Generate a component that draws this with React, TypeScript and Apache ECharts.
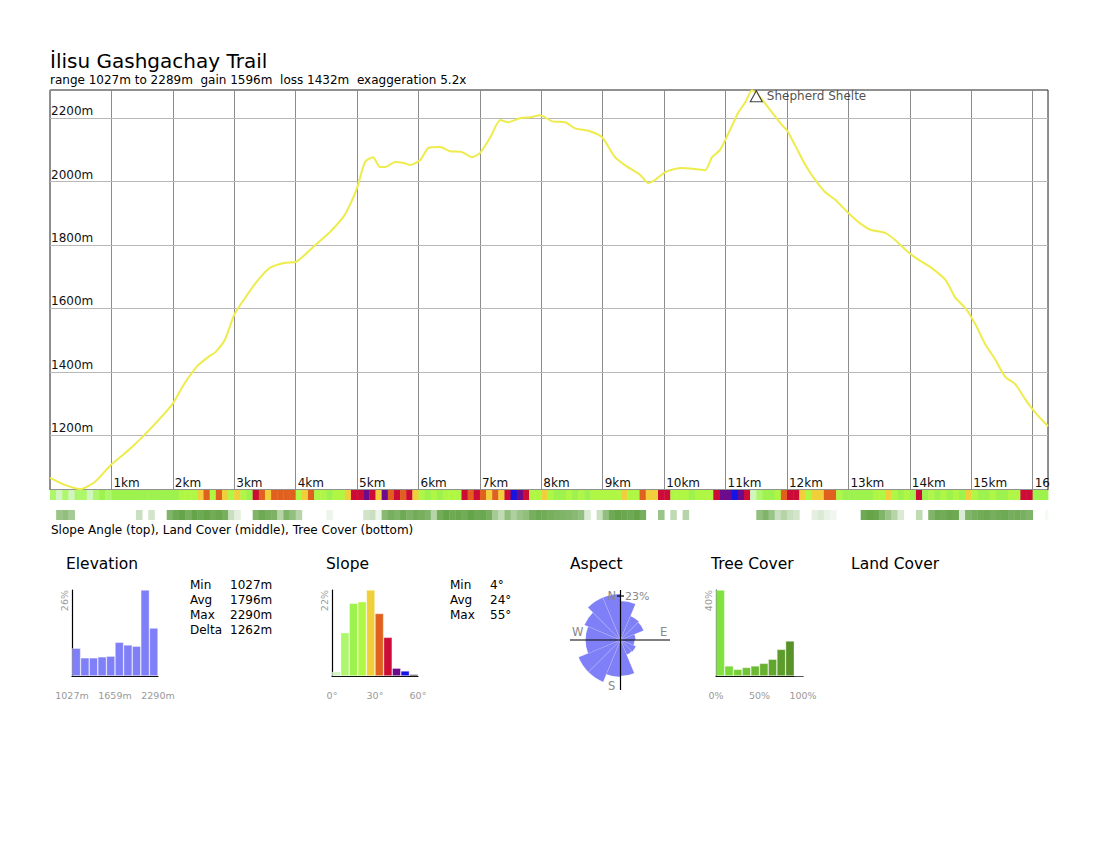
import React, { useEffect, useRef } from 'react';
import * as echarts from 'echarts';

// ---------- texts ----------
const TITLE = 'İlisu Gashgachay Trail';
const SUBTITLE = 'range 1027m to 2289m  gain 1596m  loss 1432m  exaggeration 5.2x';
const STRIP_CAPTION = 'Slope Angle (top), Land Cover (middle), Tree Cover (bottom)';
const SECTION_TITLES = ['Elevation', 'Slope', 'Aspect', 'Tree Cover', 'Land Cover'];

// ---------- elevation profile ----------
const ELEV_MIN = 1027;
const ELEV_MAX = 2289;
const TRAIL_KM = 16.25;
const DIST_KM = [0, 0.24, 0.49, 0.73, 0.99, 1.3, 1.63, 1.99, 2.2, 2.41, 2.61, 2.69, 2.85, 3.0, 3.18, 3.39, 3.58, 3.83, 4.01, 4.15, 4.32, 4.56, 4.8, 4.92, 5.0, 5.13, 5.26, 5.37, 5.46, 5.62, 5.78, 5.86, 6.03, 6.16, 6.35, 6.51, 6.71, 6.87, 7.0, 7.17, 7.33, 7.46, 7.65, 7.82, 7.98, 8.18, 8.39, 8.55, 8.79, 8.99, 9.2, 9.36, 9.61, 9.74, 9.85, 10.02, 10.26, 10.5, 10.67, 10.78, 10.91, 11.07, 11.21, 11.32, 11.43, 11.56, 11.73, 11.92, 12.0, 12.13, 12.3, 12.46, 12.62, 12.79, 13.0, 13.16, 13.36, 13.6, 13.76, 13.93, 14.09, 14.33, 14.58, 14.74, 14.9, 15.07, 15.23, 15.39, 15.55, 15.72, 15.88, 16.04, 16.25];
const ELEV_M = [1065, 1043, 1030, 1052, 1106, 1156, 1219, 1297, 1366, 1420, 1451, 1461, 1502, 1580, 1634, 1690, 1728, 1744, 1747, 1769, 1800, 1841, 1895, 1942, 1980, 2062, 2077, 2046, 2046, 2062, 2058, 2052, 2068, 2106, 2109, 2096, 2093, 2077, 2090, 2140, 2194, 2187, 2200, 2203, 2209, 2190, 2187, 2168, 2159, 2140, 2077, 2052, 2021, 1995, 2005, 2030, 2043, 2040, 2036, 2077, 2100, 2162, 2219, 2250, 2288, 2266, 2225, 2178, 2162, 2115, 2052, 2005, 1967, 1942, 1901, 1873, 1848, 1838, 1816, 1785, 1760, 1731, 1690, 1634, 1602, 1549, 1486, 1439, 1385, 1360, 1313, 1272, 1228];
const ELEV_GRID_LINES = [1200, 1400, 1600, 1800, 2000, 2200];

const WAYPOINT_NAMES = ['Shepherd Shelte'];
const WAYPOINT_KM = [11.5];
const WAYPOINT_ELEV = [2269];

// ---------- strips (one value per 0.1 km) ----------
const STRIP_STEP_KM = 0.1;
const SLOPE_STRIP = [
  6, 5, 8, 4, 7, 10, 5, 8, 12, 10,
  14, 12, 15, 13, 16, 14, 12, 15, 14, 16,
  16, 18, 22, 21, 26, 31, 22, 32, 26, 21,
  25, 18, 17, 38, 31, 28, 33, 31, 35, 33,
  22, 27, 31, 19, 21, 17, 23, 20, 26, 38,
  40, 47, 36, 28, 42, 34, 38, 30, 36, 27,
  20, 17, 19, 16, 20, 18, 22, 37, 34, 36,
  30, 27, 33, 29, 38, 48, 45, 36, 22, 19,
  27, 22, 17, 14, 19, 16, 20, 15, 18, 21,
  18, 22, 19, 24, 21, 22, 35, 29, 27, 39,
  37, 20, 18, 22, 17, 21, 19, 23, 38, 42,
  44, 49, 42, 39, 5, 9, 16, 14, 19, 31,
  39, 40, 27, 22, 28, 24, 31, 34, 18, 16,
  14, 17, 12, 15, 18, 20, 24, 19, 16, 18,
  17, 37, 16, 18, 15, 19, 17, 18, 16, 24,
  18, 16, 17, 19, 15, 17, 18, 20, 39, 37,
  14, 15, 13
];
const TREE_STRIP = [
  0, 55, 60, 50, 0, 0, 0, 0, 0, 0,
  0, 0, 0, 0, 30, 0, 25, 0, 0, 70,
  80, 85, 75, 85, 80, 85, 78, 82, 75, 30,
  15, 0, 0, 70, 80, 75, 72, 40, 70, 60,
  40, 0, 0, 0, 0, 10, 0, 0, 0, 0,
  0, 25, 30, 10, 65, 75, 70, 80, 72, 78,
  75, 70, 40, 78, 85, 80, 82, 78, 85, 80,
  82, 75, 50, 35, 60, 45, 55, 60, 75, 80,
  78, 75, 72, 70, 68, 65, 60, 20, 0, 30,
  60, 80, 85, 82, 80, 85, 75, 0, 0, 55,
  0, 35, 0, 40, 0, 0, 0, 0, 0, 0,
  0, 0, 0, 0, 0, 60, 70, 55, 30, 40,
  30, 25, 0, 0, 15, 20, 12, 8, 0, 0,
  0, 0, 80, 85, 82, 70, 55, 40, 20, 0,
  0, 35, 0, 70, 80, 78, 82, 80, 20, 70,
  75, 78, 80, 75, 78, 80, 76, 78, 74, 70,
  0, 0, 5
];

// ---------- histograms ----------
const ELEV_HIST_RANGE = [1027, 2290];
const ELEV_HIST = [8.4, 5.5, 5.5, 5.8, 6.0, 10.2, 9.4, 9.0, 26, 14.5];
const ELEV_HIST_MAX = 26;
const ELEV_STAT_LABELS = ['Min', 'Avg', 'Max', 'Delta'];
const ELEV_STAT_VALUES = ['1027m', '1796m', '2290m', '1262m'];

const SLOPE_BIN_DEG = 6;
const SLOPE_HIST = [1.1, 11.1, 18.6, 19.0, 22, 16.0, 9.9, 2.0, 1.3, 0.4];
const SLOPE_HIST_MAX = 22;
const SLOPE_COLORS = ['#d0f5bf', '#aef76c', '#9df24d', '#b0f644', '#f0cf3a', '#e0601f', '#cc0b37', '#6c0c8c', '#1414e6', '#000000'];
const SLOPE_STAT_LABELS = ['Min', 'Avg', 'Max'];
const SLOPE_STAT_VALUES = ['4°', '24°', '55°'];

const TREE_HIST = [40, 4.7, 3.1, 4.0, 4.7, 5.9, 7.8, 12.4, 16.3, 0];
const TREE_HIST_MAX = 40;
const TREE_COLORS = ['#80e23e', '#7bd83b', '#76ce38', '#71c435', '#6cba33', '#67b030', '#62a62e', '#5d9c2c', '#589229', '#538827'];

const ASPECT_DIRS = ['N', 'NNE', 'NE', 'ENE', 'E', 'ESE', 'SE', 'SSE', 'S', 'SSW', 'SW', 'WSW', 'W', 'WNW', 'NW', 'NNW'];
const ASPECT_PCT = [19.5, 13, 12.5, 7.5, 7, 8.3, 8, 18, 18.5, 22.7, 22.7, 17.5, 17.5, 19.5, 23, 23];
const ASPECT_MAX = 23;

const FONT = 'DejaVu Sans';

function txt(x: number, y: number, text: string, size: number, color = '#000', align = 'left') {
  return {
    type: 'text', x, y, silent: true, z: 100,
    style: { text, fill: color, fontSize: size, fontFamily: FONT, align, verticalAlign: 'middle' }
  };
}
function seg(x1: number, y1: number, x2: number, y2: number) {
  return { type: 'line', silent: true, z: 100, shape: { x1, y1, x2, y2 }, style: { stroke: '#000', lineWidth: 1.2 } };
}

function treeColor(v: number) {
  const t = Math.min(1, v / 100);
  const c = [74, 148, 40];
  const ch = c.map((k) => Math.round(255 + (k - 255) * t));
  return `rgb(${ch[0]},${ch[1]},${ch[2]})`;
}
function slopeColor(v: number) {
  return SLOPE_COLORS[Math.min(SLOPE_COLORS.length - 1, Math.floor(v / SLOPE_BIN_DEG))];
}

function stripRender(colorOf: (v: number) => string) {
  return (params: any, api: any) => {
    const s = api.value(0);
    const e = api.value(1);
    const v = api.value(2);
    const p0 = api.coord([s, 1]);
    const p1 = api.coord([e, 0]);
    return {
      type: 'rect',
      shape: { x: p0[0], y: p0[1], width: p1[0] - p0[0] + 0.4, height: p1[1] - p0[1] },
      style: { fill: colorOf(v) }
    };
  };
}

function stripData(values: number[]) {
  const out: number[][] = [];
  values.forEach((v, i) => {
    if (v <= 0) return;
    out.push([i * STRIP_STEP_KM, Math.min(TRAIL_KM, (i + 1) * STRIP_STEP_KM), v]);
  });
  return out;
}

function histXAxes(gridIndex: number, n: number, min: number, max: number, fmt: (v: number) => string) {
  return [
    {
      type: 'category', gridIndex, position: 'bottom', data: Array.from({ length: n }, (_, i) => String(i)),
      axisLine: { show: true, lineStyle: { color: '#000', width: 1.2 } },
      axisTick: { show: false }, axisLabel: { show: false }, splitLine: { show: false }
    },
    {
      type: 'value', gridIndex, position: 'bottom', min, max, interval: (max - min) / 2,
      axisLine: { show: false }, axisTick: { show: false }, splitLine: { show: false },
      axisLabel: { show: true, margin: 14, color: '#999', fontSize: 9.5, fontFamily: FONT, formatter: fmt }
    }
  ];
}
function histYAxis(gridIndex: number, max: number) {
  return {
    type: 'value', gridIndex, min: 0, max, interval: max,
    axisLine: { show: true, lineStyle: { color: '#000', width: 1.2 } },
    axisTick: { show: false }, splitLine: { show: false },
    axisLabel: {
      show: true, rotate: 90, align: 'right', verticalAlign: 'bottom', margin: 3,
      color: '#999', fontSize: 9.5, fontFamily: FONT,
      formatter: (v: number) => (v === max ? `${max}%` : '')
    }
  };
}

function buildOption() {
  const graphic: any[] = [
    txt(50, 61, TITLE, 20),
    txt(50, 80, SUBTITLE, 12),
    txt(51, 530, STRIP_CAPTION, 12),
    txt(66, 564, SECTION_TITLES[0], 15.5),
    txt(326, 564, SECTION_TITLES[1], 15.5),
    txt(570, 564, SECTION_TITLES[2], 15.5),
    txt(711, 564, SECTION_TITLES[3], 15.5),
    txt(851, 564, SECTION_TITLES[4], 15.5),
    // compass
    seg(570, 640, 670, 640),
    seg(620.5, 590, 620.5, 690),
    seg(617, 596, 624, 596),
    txt(616, 596, 'N', 11.5, '#888', 'right'),
    txt(625, 596, `${ASPECT_MAX}%`, 11, '#888'),
    txt(572, 632, 'W', 11.5, '#888'),
    txt(660, 632, 'E', 11.5, '#888'),
    txt(608, 686, 'S', 11.5, '#888')
  ];
  ELEV_STAT_LABELS.forEach((l, i) => {
    graphic.push(txt(190, 585 + i * 15, l, 12));
    graphic.push(txt(230, 585 + i * 15, ELEV_STAT_VALUES[i], 12));
  });
  SLOPE_STAT_LABELS.forEach((l, i) => {
    graphic.push(txt(450, 585 + i * 15, l, 12));
    graphic.push(txt(490, 585 + i * 15, SLOPE_STAT_VALUES[i], 12));
  });

  const hidden = { axisLine: { show: false }, axisTick: { show: false }, axisLabel: { show: false }, splitLine: { show: false } };

  return {
    animation: false,
    backgroundColor: '#fff',
    textStyle: { fontFamily: FONT },
    graphic,
    grid: [
      { left: 50, top: 90, width: 998, height: 400, show: true, borderColor: '#222', borderWidth: 1, backgroundColor: 'transparent' },
      { left: 50, top: 490, width: 998, height: 10 },
      { left: 50, top: 510, width: 998, height: 10 },
      { left: 72, top: 590, width: 86, height: 86 },
      { left: 332, top: 590, width: 86, height: 86 },
      { left: 716, top: 590, width: 87, height: 86 }
    ],
    xAxis: [
      {
        type: 'value', gridIndex: 0, min: 0, max: TRAIL_KM, interval: 1,
        axisLine: { show: false }, axisTick: { show: false },
        splitLine: { show: true, lineStyle: { color: '#8c8c8c', width: 1 } },
        axisLabel: {
          inside: true, align: 'left', verticalAlign: 'bottom', margin: 1, padding: [0, 0, 0, 2],
          color: '#111', fontSize: 12, fontFamily: FONT,
          formatter: (v: number) => (Number.isInteger(v) && v > 0 ? (v === 16 ? '16' : `${v}km`) : '')
        }
      },
      { type: 'value', gridIndex: 1, min: 0, max: TRAIL_KM, ...hidden },
      { type: 'value', gridIndex: 2, min: 0, max: TRAIL_KM, ...hidden },
      ...histXAxes(3, ELEV_HIST.length, ELEV_HIST_RANGE[0], ELEV_HIST_RANGE[1], (v) => `${Math.round(v)}m`),
      ...histXAxes(4, SLOPE_HIST.length, 0, SLOPE_BIN_DEG * SLOPE_HIST.length, (v) => `${Math.round(v)}°`),
      ...histXAxes(5, TREE_HIST.length, 0, 100, (v) => `${Math.round(v)}%`)
    ],
    yAxis: [
      { type: 'value', gridIndex: 0, min: ELEV_MIN, max: ELEV_MAX, ...hidden },
      { type: 'value', gridIndex: 1, min: 0, max: 1, ...hidden },
      { type: 'value', gridIndex: 2, min: 0, max: 1, ...hidden },
      histYAxis(3, ELEV_HIST_MAX),
      histYAxis(4, SLOPE_HIST_MAX),
      histYAxis(5, TREE_HIST_MAX)
    ],
    polar: { center: [620.5, 640], radius: [0, 46] },
    angleAxis: { type: 'category', data: ASPECT_DIRS, startAngle: 90, clockwise: true, show: false },
    radiusAxis: { type: 'value', min: 0, max: ASPECT_MAX, show: false },
    series: [
      {
        type: 'line', xAxisIndex: 0, yAxisIndex: 0, z: 3,
        data: DIST_KM.map((d, i) => [d, ELEV_M[i]]),
        showSymbol: false, smooth: 0.2,
        lineStyle: { color: '#eeec4c', width: 2 },
        markLine: {
          silent: true, symbol: 'none', z: 1,
          lineStyle: { color: '#b8b8b8', width: 1, type: 'solid' },
          label: {
            position: 'insideStartTop', distance: 1, color: '#111', fontSize: 12, fontFamily: FONT,
            formatter: (p: any) => `${p.value}m`
          },
          emphasis: { disabled: true },
          data: ELEV_GRID_LINES.map((v) => ({ yAxis: v }))
        }
      },
      {
        type: 'scatter', xAxisIndex: 0, yAxisIndex: 0, z: 4,
        data: WAYPOINT_KM.map((k, i) => ({ name: WAYPOINT_NAMES[i], value: [k, WAYPOINT_ELEV[i]] })),
        symbol: 'triangle', symbolSize: [12, 11],
        itemStyle: { color: '#fff', borderColor: '#111', borderWidth: 1.1 },
        label: { show: true, position: 'right', distance: 4, formatter: (p: any) => p.name, color: '#222', fontSize: 12, fontFamily: FONT }
      },
      {
        type: 'custom', xAxisIndex: 1, yAxisIndex: 1,
        renderItem: stripRender(slopeColor),
        data: stripData(SLOPE_STRIP)
      },
      {
        type: 'custom', xAxisIndex: 2, yAxisIndex: 2,
        renderItem: stripRender(treeColor),
        data: stripData(TREE_STRIP)
      },
      {
        type: 'bar', xAxisIndex: 3, yAxisIndex: 3, data: ELEV_HIST, barCategoryGap: '0%',
        itemStyle: { color: '#7f7ff7', borderColor: 'rgba(255,255,255,0.6)', borderWidth: 0.6 }
      },
      {
        type: 'bar', xAxisIndex: 5, yAxisIndex: 4, barCategoryGap: '0%',
        data: SLOPE_HIST.map((v, i) => ({ value: v, itemStyle: { color: SLOPE_COLORS[i] } })),
        itemStyle: { borderColor: 'rgba(255,255,255,0.6)', borderWidth: 0.6 }
      },
      {
        type: 'bar', xAxisIndex: 7, yAxisIndex: 5, barCategoryGap: '0%',
        data: TREE_HIST.map((v, i) => ({ value: v, itemStyle: { color: TREE_COLORS[i] } })),
        itemStyle: { borderColor: 'rgba(255,255,255,0.6)', borderWidth: 0.6 }
      },
      {
        type: 'bar', coordinateSystem: 'polar', data: ASPECT_PCT, barCategoryGap: '0%', z: 2,
        itemStyle: { color: '#7f7ff7', borderColor: 'rgba(255,255,255,0.3)', borderWidth: 0.4 }
      }
    ]
  };
}

export default function App() {
  const ref = useRef<HTMLDivElement>(null);
  useEffect(() => {
    if (!ref.current) return;
    const chart = echarts.init(ref.current, null, { renderer: 'svg' });
    chart.setOption(buildOption() as any);
    return () => chart.dispose();
  }, []);
  return (
    <div
      ref={ref}
      style={{ position: 'absolute', left: 0, top: 0, width: 1100, height: 850, background: '#fff' }}
    />
  );
}
